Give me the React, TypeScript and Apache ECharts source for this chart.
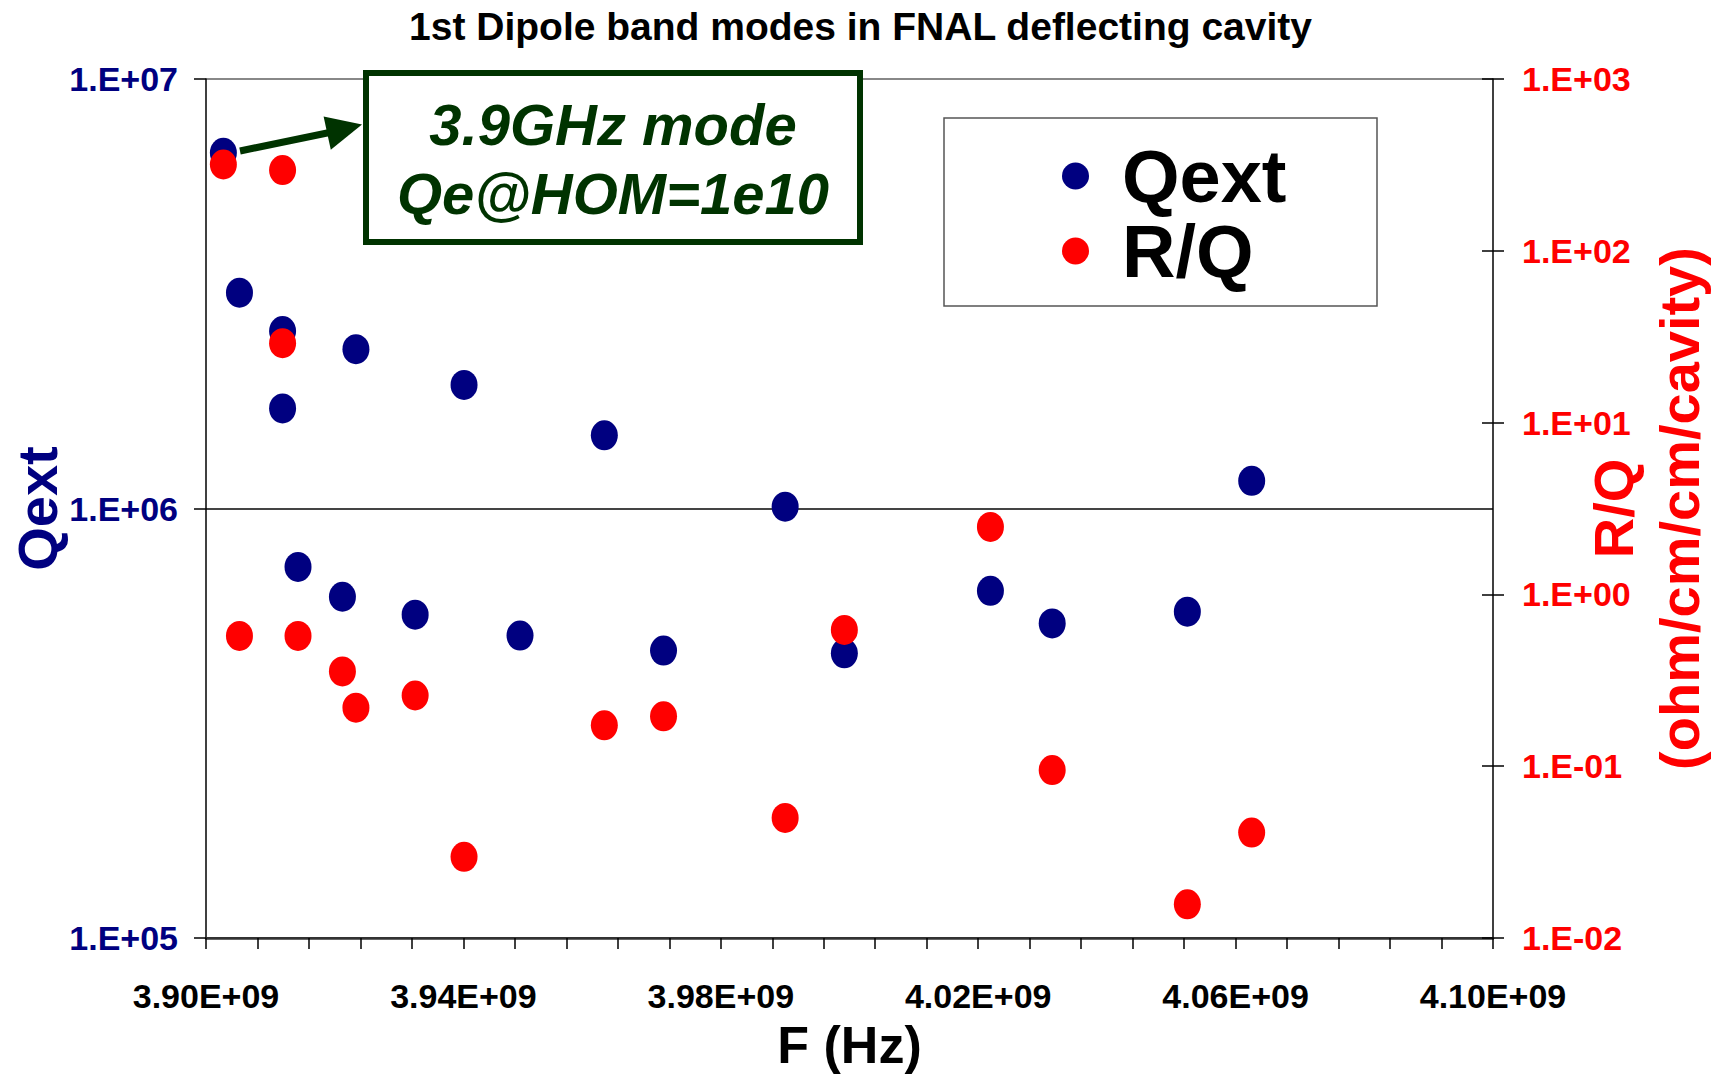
import React, { useEffect, useRef } from "react";
import * as echarts from "echarts";

// Frequency of each mode (Hz)
const FREQ_HZ = [
  3.9027e9, 3.9052e9, 3.9119e9, 3.9119e9, 3.9143e9, 3.9212e9, 3.9233e9, 3.9325e9, 3.9401e9,
  3.9488e9, 3.9619e9, 3.9711e9, 3.99e9, 3.9992e9, 4.0219e9, 4.0315e9, 4.0525e9, 4.0625e9,
];
// External Q of each mode
const QEXT = [
  6.73e6, 3.18e6, 2.59e6, 1.71e6, 7.31e5, 6.23e5, 2.35e6, 5.66e5, 1.94e6,
  5.06e5, 1.48e6, 4.67e5, 1.01e6, 4.6e5, 6.43e5, 5.4e5, 5.75e5, 1.16e6,
];
// R/Q of each mode (ohm/cm/cm/cavity); null = not shown
const RQ: (number | null)[] = [
  318, 0.573, 29.0, 295, 0.573, 0.356, 0.219, 0.258, 0.0297,
  null, 0.173, 0.195, 0.05, 0.621, 2.47, 0.095, 0.0157, 0.0411,
];

const X_MIN = 3.9e9;
const X_MAX = 4.1e9;
const X_STEP = 4e7;
const QEXT_RANGE = [1e5, 1e7];
const RQ_RANGE = [1e-2, 1e3];

const TITLE = "1st Dipole band modes in FNAL deflecting cavity";
const NOTE_LINES = ["3.9GHz mode", "Qe@HOM=1e10"];

const FONT = '"Liberation Sans", Arial, Helvetica, sans-serif';
const NAVY = "#000080";
const RED = "#FF0000";
const GREEN = "#003300";
const ELLIPSE = "path://M0,-1A1,1 0 1 1 0,1A1,1 0 1 1 0,-1Z";

const sci = (v: number) => {
  const e = Math.round(Math.log10(v));
  return "1.E" + (e < 0 ? "-" : "+") + String(Math.abs(e)).padStart(2, "0");
};
const xFmt = (v: number) => (v / 1e9).toFixed(2) + "E+09";

export default function App() {
  const ref = useRef<HTMLDivElement>(null);
  useEffect(() => {
    if (!ref.current) return;
    const chart = echarts.init(ref.current, undefined, { renderer: "svg" });
    const qData = FREQ_HZ.map((f, i) => [f, QEXT[i]]);
    const rData = FREQ_HZ.map((f, i) => [f, RQ[i]]).filter((d) => d[1] !== null);
    const labelBase = { fontFamily: FONT, fontWeight: "bold" as const, fontSize: 34 };
    chart.setOption({
      animation: false,
      backgroundColor: "#ffffff",
      title: {
        text: TITLE,
        left: "center",
        top: 7,
        padding: 0,
        textStyle: { fontFamily: FONT, fontWeight: "bold", fontSize: 39, color: "#000" },
      },
      grid: {
        left: 206,
        right: 228,
        top: 79,
        bottom: 138,
        containLabel: false,
        outerBoundsMode: "none",
      },
      legend: {
        data: ["Qext", "R/Q"],
        orient: "vertical",
        left: 1062,
        top: 139,
        padding: 0,
        itemWidth: 27,
        itemHeight: 30,
        itemGap: 1,
        icon: ELLIPSE,
        textStyle: {
          fontFamily: FONT,
          fontWeight: "bold",
          fontSize: 74,
          lineHeight: 74,
          color: "#000",
          padding: [0, 0, 0, 28],
        },
      },
      xAxis: {
        type: "value",
        min: X_MIN,
        max: X_MAX,
        interval: X_STEP,
        name: "F (Hz)",
        nameLocation: "middle",
        nameGap: 81,
        nameMoveOverlap: false,
        nameTextStyle: { fontFamily: FONT, fontWeight: "bold", fontSize: 52, color: "#000" },
        axisLine: { show: true, lineStyle: { color: "#333", width: 2.5 } },
        axisTick: { show: true, length: 11, lineStyle: { color: "#000", width: 1.5 } },
        minorTick: { show: true, splitNumber: 5, length: 11, lineStyle: { color: "#000", width: 1.5 } },
        axisLabel: { ...labelBase, color: "#000", margin: 41, formatter: xFmt },
        splitLine: { show: false },
      },
      yAxis: [
        {
          type: "log",
          logBase: 10,
          min: QEXT_RANGE[0],
          max: QEXT_RANGE[1],
          position: "left",
          name: "Qext",
          nameLocation: "middle",
          nameRotate: 90,
          nameGap: 141,
          nameMoveOverlap: false,
          nameTextStyle: { fontFamily: FONT, fontWeight: "bold", fontSize: 56, color: NAVY },
          axisLine: { show: true, lineStyle: { color: "#000", width: 1.5 } },
          axisTick: { show: true, length: 12, lineStyle: { color: "#000", width: 1.5 } },
          axisLabel: { ...labelBase, color: NAVY, margin: 28, formatter: sci },
          splitLine: { show: true, lineStyle: { color: ["#333", "#444", "#888"], width: 2 } },
        },
        {
          type: "log",
          logBase: 10,
          min: RQ_RANGE[0],
          max: RQ_RANGE[1],
          position: "right",
          name: "R/Q\n(ohm/cm/cm/cavity)",
          nameLocation: "middle",
          nameRotate: 90,
          nameGap: 87,
          nameMoveOverlap: false,
          nameTextStyle: {
            fontFamily: FONT,
            fontWeight: "bold",
            fontSize: 56,
            lineHeight: 66,
            color: RED,
          },
          axisLine: { show: true, lineStyle: { color: "#000", width: 1.5 } },
          axisTick: { show: true, length: 11, lineStyle: { color: "#000", width: 1.5 } },
          axisLabel: { ...labelBase, color: RED, margin: 29, formatter: sci },
          splitLine: { show: false },
        },
        {
          type: "log",
          logBase: 10,
          min: RQ_RANGE[0],
          max: RQ_RANGE[1],
          position: "right",
          axisLine: { show: false },
          axisTick: { show: true, inside: true, length: 11, lineStyle: { color: "#000", width: 1.5 } },
          axisLabel: { show: false },
          splitLine: { show: false },
        },
      ],
      series: [
        {
          name: "Qext",
          type: "scatter",
          yAxisIndex: 0,
          symbol: ELLIPSE,
          symbolSize: [27, 30],
          itemStyle: { color: NAVY, opacity: 1 },
          data: qData,
          z: 3,
        },
        {
          name: "R/Q",
          type: "scatter",
          yAxisIndex: 1,
          symbol: ELLIPSE,
          symbolSize: [27, 30],
          itemStyle: { color: RED, opacity: 1 },
          data: rData,
          z: 4,
        },
      ],
      graphic: [
        {
          type: "rect",
          z: 1,
          shape: { x: 944, y: 118, width: 433, height: 188 },
          style: { fill: "#fff", stroke: "#555", lineWidth: 1.5 },
        },
        {
          type: "rect",
          z: 10,
          shape: { x: 366, y: 73, width: 494, height: 169 },
          style: { fill: "#fff", stroke: GREEN, lineWidth: 6 },
        },
        {
          type: "text",
          z: 11,
          x: 613,
          y: 124,
          style: {
            text: NOTE_LINES[0],
            fill: GREEN,
            font: `italic bold 58px ${FONT}`,
            textAlign: "center",
            textVerticalAlign: "middle",
          },
        },
        {
          type: "text",
          z: 11,
          x: 613,
          y: 193,
          style: {
            text: NOTE_LINES[1],
            fill: GREEN,
            font: `italic bold 58px ${FONT}`,
            textAlign: "center",
            textVerticalAlign: "middle",
          },
        },
        {
          type: "line",
          z: 11,
          shape: { x1: 240, y1: 151, x2: 332, y2: 132 },
          style: { stroke: GREEN, lineWidth: 7 },
        },
        {
          type: "polygon",
          z: 11,
          shape: { points: [[362, 124.5], [323.6, 116.4], [330.8, 149.8]] },
          style: { fill: GREEN },
        },
      ],
    });
    return () => chart.dispose();
  }, []);
  return (
    <div
      ref={ref}
      style={{ position: "fixed", left: 0, top: 0, width: 1721, height: 1076, background: "#fff" }}
    />
  );
}
